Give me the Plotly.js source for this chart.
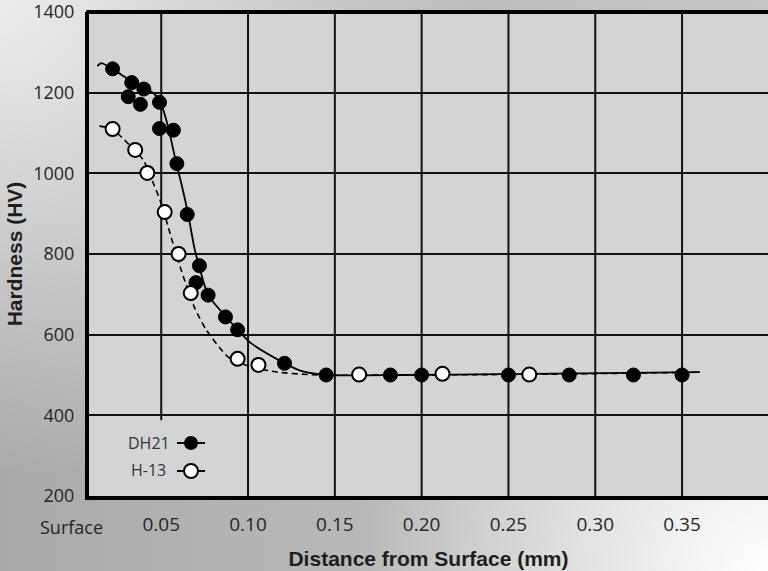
<!DOCTYPE html>
<html>
<head>
<meta charset="utf-8">
<script src="https://cdn.plot.ly/plotly-3.0.1.min.js"></script>
<style>
  html, body { margin: 0; padding: 0; }
  body {
    width: 768px; height: 571px; overflow: hidden;
    background:
      radial-gradient(circle at 100% 100%, rgba(255,255,255,1) 0%, rgba(255,255,255,0) 42%),
      radial-gradient(circle at 0% 0%, rgba(238,238,238,1) 0%, rgba(238,238,238,0) 50%),
      linear-gradient(to right, #a9a9a9 0%, #bdbdbd 60%, #c6c6c6 100%);
  }
  #chart { width: 768px; height: 571px; }
</style>
</head>
<body>
<div id="chart"></div>
<script>
// ---- data ----
const dh21X = [0.022,0.033,0.031,0.040,0.038,0.049,0.049,0.057,0.059,0.065,0.072,0.070,0.077,0.087,0.094,0.121,0.145,0.182,0.200,0.250,0.285,0.322,0.350];
const dh21Y = [1259,1225,1190,1209,1171,1176,1111,1107,1024,898,771,729,698,644,612,529,500,500,500,500,500,500,500];

const h13X = [0.022,0.035,0.042,0.052,0.060,0.067,0.094,0.106,0.164,0.212,0.262];
const h13Y = [1110,1058,1001,904,800,703,540,525,501,503,501];

// fitted trend curves
const dh21FitX = [0.0132,0.0155,0.0218,0.0328,0.0431,0.0471,0.0500,0.0529,0.0557,0.0586,0.0615,0.0655,0.0690,0.0718,0.0770,0.0874,0.1017,0.1207,0.1305,0.1454,0.1879,0.2454,0.3603];
const dh21FitY = [1266,1273,1259,1229,1206,1192,1172,1132,1083,1026,976,899,817,770,698,644,579,530,510,500,500,502,507];

const h13FitX = [0.0144,0.0218,0.0287,0.0397,0.0454,0.0500,0.0557,0.0615,0.0690,0.0759,0.0885,0.1017,0.1172,0.1402,0.1879,0.2741,0.3603];
const h13FitY = [1117,1110,1083,1033,976,926,842,760,669,612,545,520,507,500,500,502,507];

const xTickVals = [0.05,0.10,0.15,0.20,0.25,0.30,0.35];
const xTickText = ['0.05','0.10','0.15','0.20','0.25','0.30','0.35'];
const yTickVals = [200,400,600,800,1000,1200,1400];
const yTickText = ['200','400','600','800','1000','1200','1400'];
const seriesNames = ['DH21','H-13'];

// ---- styling / layout ----
const titleFont = {family: 'Liberation Sans, Arial, sans-serif', size: 21, color: '#1e1e1e', weight: 'bold'};
const gridColor = '#111111';
const shortGridBottom = 388; // the 0.05 grid line stops above the legend

const traces = [
  {x: dh21FitX, y: dh21FitY, mode: 'lines', line: {color: '#000', width: 1.8, shape: 'spline', smoothing: 0.6}, hoverinfo: 'skip', showlegend: false},
  {x: h13FitX, y: h13FitY, mode: 'lines', line: {color: '#000', width: 1.6, dash: '6px,4px', shape: 'spline', smoothing: 0.6}, hoverinfo: 'skip', showlegend: false},
  {x: dh21X, y: dh21Y, mode: 'markers', name: seriesNames[0], marker: {size: 14, color: '#000', line: {color: '#000', width: 1}}, showlegend: false},
  {x: h13X, y: h13Y, mode: 'markers', name: seriesNames[1], marker: {size: 14, color: '#fff', line: {color: '#000', width: 2}}, showlegend: false},
  // custom legend samples (pixel-like overlay axes)
  {x: [177, 205], y: [443, 443], xaxis: 'x2', yaxis: 'y2', mode: 'lines', line: {color: '#000', width: 2}, hoverinfo: 'skip', showlegend: false},
  {x: [191], y: [443], xaxis: 'x2', yaxis: 'y2', mode: 'markers', marker: {size: 14, color: '#000'}, hoverinfo: 'skip', showlegend: false},
  {x: [177, 205], y: [471, 471], xaxis: 'x2', yaxis: 'y2', mode: 'lines', line: {color: '#000', width: 2}, hoverinfo: 'skip', showlegend: false},
  {x: [191], y: [471], xaxis: 'x2', yaxis: 'y2', mode: 'markers', marker: {size: 14, color: '#fff', line: {color: '#000', width: 2}}, hoverinfo: 'skip', showlegend: false}
];

const shapes = xTickVals.map((v, i) => ({
  type: 'line', xref: 'x', yref: 'y', x0: v, x1: v,
  y0: i === 0 ? shortGridBottom : 200, y1: 1400,
  line: {color: gridColor, width: 2}, layer: 'below'
}));
shapes.push({type: 'line', xref: 'paper', yref: 'paper', x0: -0.004, x1: 1, y0: 1, y1: 1, line: {color: '#000', width: 4}});

const layout = {
  width: 768, height: 571,
  margin: {l: 89, r: 0, t: 12, b: 75},
  paper_bgcolor: 'rgba(0,0,0,0)',
  plot_bgcolor: '#d3d4d6',
  showlegend: false,
  xaxis: {
    range: [0.0084, 0.3995], tickvals: xTickVals, ticktext: xTickText,
    showgrid: false, zeroline: false, showline: true, linecolor: '#000', linewidth: 4,
    ticks: 'outside', ticklen: 8, tickcolor: 'rgba(0,0,0,0)',
    tickfont: {family: 'Open Sans, sans-serif', size: 19, color: '#262626'},
    title: {text: 'Distance from Surface (mm)', font: titleFont, standoff: 17}
  },
  yaxis: {
    range: [200, 1400], tickvals: yTickVals, ticktext: yTickText,
    showgrid: true, gridcolor: gridColor, gridwidth: 2, zeroline: false,
    showline: true, linecolor: '#000', linewidth: 4,
    ticks: 'outside', ticklen: 7, tickcolor: 'rgba(0,0,0,0)', ticklabeloverflow: 'allow',
    tickfont: {family: 'Open Sans, sans-serif', size: 18, color: '#262626'},
    title: {text: 'Hardness (HV)', font: titleFont, standoff: 6}
  },
  xaxis2: {overlaying: 'x', anchor: 'y2', range: [89, 768], visible: false, fixedrange: true},
  yaxis2: {overlaying: 'y', anchor: 'x2', range: [496, 12], visible: false, fixedrange: true},
  shapes: shapes,
  annotations: [
    {xref: 'paper', yref: 'paper', x: -0.0265, y: -0.064, text: 'Surface', showarrow: false,
     xanchor: 'center', yanchor: 'middle', font: {family: 'Open Sans, sans-serif', size: 18, color: '#262626'}},
    {xref: 'x2', yref: 'y2', x: 172, y: 443, text: seriesNames[0], showarrow: false, xanchor: 'right', yanchor: 'middle',
     font: {family: 'Open Sans, sans-serif', size: 16, color: '#333'}},
    {xref: 'x2', yref: 'y2', x: 168, y: 470, text: seriesNames[1], showarrow: false, xanchor: 'right', yanchor: 'middle',
     font: {family: 'Open Sans, sans-serif', size: 16, color: '#333'}}
  ]
};

Plotly.newPlot('chart', traces, layout, {displayModeBar: false, staticPlot: true});
</script>
</body>
</html>
